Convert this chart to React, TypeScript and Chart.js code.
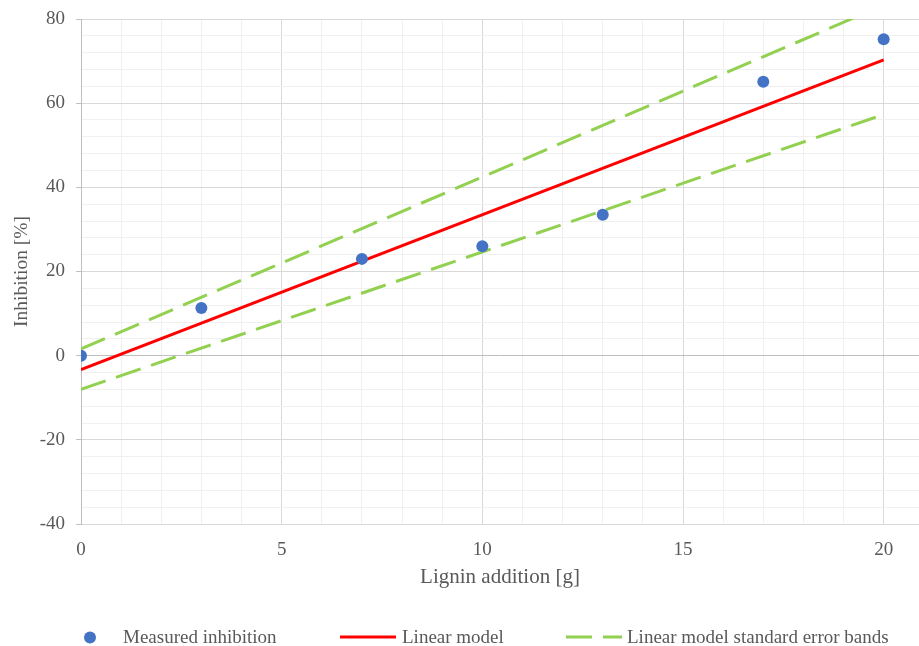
import { useEffect, useRef } from 'react';
import { Chart, registerables } from 'chart.js';

Chart.register(...registerables);

// Measured inhibition at each lignin addition
const ligninG = [0, 3, 7, 10, 13, 17, 20];
const inhibitionPct = [0, 11.3, 23.0, 26.0, 33.5, 65.1, 75.2];

// Linear model and its standard error bands (end points)
const modelX = [0, 20];
const modelPct = [-3.3, 70.3];
const upperBandPct = [1.6, 83.3];
const lowerBandPct = [-8.0, 57.3];

const seriesNames = ['Measured inhibition', 'Linear model', 'Linear model standard error bands'];
const xTitle = 'Lignin addition [g]';
const yTitle = 'Inhibition [%]';

const FONT = '"Liberation Serif", "Times New Roman", serif';
const TEXT = '#595959';
const BLUE = '#4472C4';
const RED = '#FF0000';
const GREEN = '#92D050';
const DASH = [26, 11];

const toXY = (xs: number[], ys: number[]) => xs.map((x, i) => ({ x, y: ys[i] }));

const isMultiple = (v: number, step: number) => Math.abs(v / step - Math.round(v / step)) < 1e-6;

// Legend drawn along the bottom of the canvas
const bottomLegend = {
  id: 'bottomLegend',
  afterDraw(chart: any) {
    const ctx = chart.ctx as CanvasRenderingContext2D;
    const base = 643;
    const mid = 637;
    ctx.save();
    ctx.font = `19px ${FONT}`;
    ctx.textAlign = 'left';
    ctx.textBaseline = 'alphabetic';

    ctx.beginPath();
    ctx.arc(90, mid + 0.5, 6, 0, Math.PI * 2);
    ctx.fillStyle = BLUE;
    ctx.fill();
    ctx.fillStyle = TEXT;
    ctx.fillText(seriesNames[0], 123, base);

    ctx.strokeStyle = RED;
    ctx.lineWidth = 3;
    ctx.beginPath();
    ctx.moveTo(340, mid);
    ctx.lineTo(396, mid);
    ctx.stroke();
    ctx.fillText(seriesNames[1], 402, base);

    ctx.strokeStyle = GREEN;
    ctx.setLineDash(DASH);
    ctx.beginPath();
    ctx.moveTo(566, mid);
    ctx.lineTo(622, mid);
    ctx.stroke();
    ctx.setLineDash([]);
    ctx.fillText(seriesNames[2], 627, base);
    ctx.restore();
  },
};

export default function App() {
  const canvasRef = useRef<HTMLCanvasElement | null>(null);

  useEffect(() => {
    const canvas = canvasRef.current;
    if (!canvas) return;
    const chart = new Chart(canvas, {
      type: 'scatter',
      data: {
        datasets: [
          {
            label: seriesNames[0],
            data: toXY(ligninG, inhibitionPct),
            backgroundColor: BLUE,
            borderColor: BLUE,
            pointRadius: 6,
            pointBorderWidth: 0,
            order: 0,
          },
          {
            label: seriesNames[1],
            type: 'line',
            data: toXY(modelX, modelPct),
            borderColor: RED,
            borderWidth: 3,
            pointRadius: 0,
            fill: false,
            clip: 0,
            order: 1,
          },
          {
            label: seriesNames[2],
            type: 'line',
            data: toXY(modelX, upperBandPct),
            borderColor: GREEN,
            borderWidth: 3,
            borderDash: DASH,
            pointRadius: 0,
            fill: false,
            clip: 0,
            order: 2,
          },
          {
            label: seriesNames[2] + ' (lower)',
            type: 'line',
            data: toXY(modelX, lowerBandPct),
            borderColor: GREEN,
            borderWidth: 3,
            borderDash: DASH,
            pointRadius: 0,
            fill: false,
            clip: 0,
            order: 2,
          },
        ],
      } as any,
      options: {
        responsive: false,
        animation: false,
        layout: { autoPadding: false, padding: { top: 19, left: 0, right: 0, bottom: 0 } },
        plugins: {
          legend: { display: false },
          tooltip: { enabled: false },
        },
        scales: {
          x: {
            type: 'linear',
            min: 0,
            max: 20.88,
            afterBuildTicks: (scale: any) => {
              scale.ticks = scale.ticks.filter((t: any) => isMultiple(t.value, 1));
            },
            afterFit: (scale: any) => {
              scale.height = 122;
              scale.paddingLeft = 0;
              scale.paddingRight = 0;
            },
            ticks: {
              stepSize: 1,
              autoSkip: false,
              maxRotation: 0,
              includeBounds: false,
              padding: 15,
              color: TEXT,
              font: { family: FONT, size: 19 },
              callback: (v: any) => (isMultiple(Number(v), 5) ? String(v) : ''),
            },
            grid: {
              drawTicks: false,
              lineWidth: 1,
              color: (c: any) => (isMultiple(c.tick?.value ?? 0, 5) ? '#d9d9d9' : '#f0f0f0'),
            },
            border: { display: true, color: '#d9d9d9', width: 1 },
            title: {
              display: true,
              text: xTitle,
              color: TEXT,
              font: { family: FONT, size: 21 },
              padding: { top: 0, bottom: 56 },
            },
          },
          y: {
            type: 'linear',
            min: -40,
            max: 80,
            afterFit: (scale: any) => {
              scale.width = 81;
              scale.paddingTop = 0;
              scale.paddingBottom = 0;
            },
            ticks: {
              stepSize: 4,
              autoSkip: false,
              padding: 11,
              color: TEXT,
              font: { family: FONT, size: 19 },
              callback: (v: any) => (isMultiple(Number(v), 20) ? String(v) : ''),
            },
            grid: {
              tickLength: 5,
              lineWidth: 1,
              color: (c: any) => {
                const v = c.tick?.value ?? 1;
                if (Math.abs(v) < 1e-6) return '#c0c0c0';
                return isMultiple(v, 20) ? '#d9d9d9' : '#f0f0f0';
              },
              tickColor: (c: any) => (isMultiple(c.tick?.value ?? 1, 20) ? '#bfbfbf' : 'rgba(0,0,0,0)'),
            },
            border: { display: true, color: '#bfbfbf', width: 1 },
            title: {
              display: true,
              text: yTitle,
              color: TEXT,
              font: { family: FONT, size: 19.5 },
              padding: { top: 10, bottom: 0 },
            },
          },
        },
      } as any,
      plugins: [bottomLegend],
    });
    return () => chart.destroy();
  }, []);

  return (
    <div style={{ position: 'fixed', left: 0, top: 0, width: 919, height: 646, background: '#ffffff' }}>
      <canvas ref={canvasRef} width={919} height={646} style={{ display: 'block' }} />
    </div>
  );
}
